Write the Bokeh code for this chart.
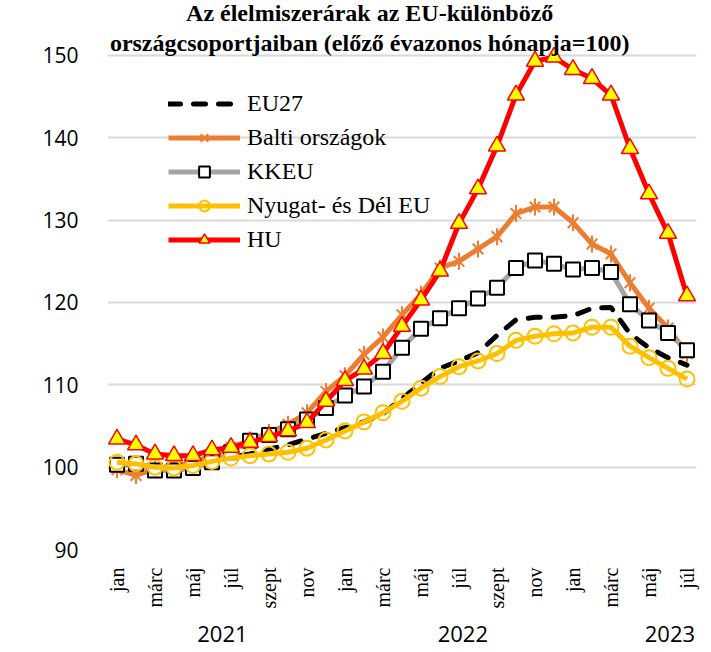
from math import pi
from bokeh.plotting import figure
from bokeh.models import (Range1d, FixedTicker, Legend, LegendItem, Label, ColumnDataSource,
                          LinearAxis)
from bokeh.embed import file_html
from bokeh.resources import INLINE

month_names = ["jan", "febr", "márc", "ápr", "máj", "jún", "júl", "aug", "szept", "okt", "nov", "dec"]
months = [month_names[i % 12] for i in range(31)]  # jan 2021 .. júl 2023
years = ["2021", "2022", "2023"]
year_pos = [5.55, 18.2, 29.1]

eu27 = [100.4, 100.3, 100.0, 100.1, 100.3, 100.7, 101.2, 101.6, 102.2, 102.7, 103.4, 104.1,
        104.8, 105.5, 106.5, 108.3, 110.2, 112.0, 112.9, 113.9, 116.0, 117.9, 118.2, 118.2,
        118.4, 119.3, 119.4, 116.2, 114.5, 113.3, 112.4]
balti = [99.7, 99.0, 99.8, 100.2, 100.6, 101.4, 102.4, 103.3, 104.2, 105.2, 106.6, 109.2,
         111.1, 113.7, 115.8, 118.5, 121.0, 124.2, 125.0, 126.5, 128.0, 130.8, 131.6, 131.6,
         129.7, 127.1, 125.9, 122.4, 119.3, 116.9, 113.8]
kkeu = [100.3, 100.4, 99.6, 99.6, 99.9, 100.6, 101.8, 103.2, 103.9, 104.6, 105.8, 107.2,
        108.7, 109.8, 111.6, 114.5, 116.8, 118.1, 119.3, 120.5, 121.8, 124.2, 125.1, 124.7,
        124.0, 124.2, 123.7, 119.8, 117.8, 116.3, 114.2]
nyugat = [100.6, 100.4, 100.0, 99.9, 100.2, 100.7, 101.1, 101.4, 101.6, 101.8, 102.3, 103.3,
          104.4, 105.5, 106.6, 108.0, 109.6, 111.0, 112.2, 112.9, 113.8, 115.4, 115.9, 116.2,
          116.3, 117.0, 117.0, 114.7, 113.3, 112.0, 110.7]
hu = [103.4, 102.7, 101.6, 101.4, 101.4, 102.1, 102.4, 103.0, 103.7, 104.4, 105.4, 108.0,
      110.5, 111.9, 113.8, 117.1, 120.3, 123.8, 129.6, 133.8, 139.0, 145.2, 149.3, 149.8,
      148.3, 147.2, 145.2, 138.7, 133.2, 128.4, 120.8]

series_names = ["EU27", "Balti országok", "KKEU", "Nyugat- és Dél EU", "HU"]
title_lines = ["Az élelmiszerárak az EU-különböző",
               "országcsoportjaiban (előző évazonos hónapja=100)"]
y_ticks = [90, 100, 110, 120, 130, 140, 150]

x = list(range(len(months)))
src = ColumnDataSource(dict(x=x, eu27=eu27, balti=balti, kkeu=kkeu, nyugat=nyugat, hu=hu))

# frame reaches the top of the canvas so the title can sit inside it; values 90..150 span
# the same pixels as in the reference
p = figure(width=711, height=652, output_backend="svg", toolbar_location=None,
           x_range=Range1d(-0.5, 30.5), y_range=Range1d(90, 156.68),
           min_border_left=107, min_border_right=15, min_border_top=0, min_border_bottom=103)
p.outline_line_color = None
p.background_fill_color = "white"
p.border_fill_color = "white"
p.xgrid.visible = False
p.ygrid.grid_line_color = "#d9d9d9"
p.ygrid.grid_line_width = 2

p.yaxis.ticker = FixedTicker(ticks=y_ticks)
p.yaxis.axis_line_color = None
p.yaxis.major_tick_line_color = None
p.yaxis.minor_tick_line_color = None
p.yaxis.major_label_text_font = "Open Sans"
p.yaxis.major_label_text_font_size = "21px"
p.yaxis.major_label_text_color = "#000000"
p.yaxis.major_label_standoff = 23

xa = p.xaxis[0]
xa.ticker = FixedTicker(ticks=x[::2])
xa.major_label_overrides = {i: months[i] for i in x[::2]}
xa.major_label_orientation = pi / 2
xa.axis_line_color = None
xa.major_tick_line_color = None
xa.minor_tick_line_color = None
xa.major_label_text_font = "Liberation Serif"
xa.major_label_text_font_size = "20px"
xa.major_label_text_color = "#000000"
xa.major_label_standoff = 12

ya = LinearAxis(ticker=FixedTicker(ticks=year_pos),
                major_label_overrides={v: t for v, t in zip(year_pos, years)},
                axis_line_color=None, major_tick_line_color=None, minor_tick_line_color=None,
                major_label_text_font="Open Sans", major_label_text_font_size="22px",
                major_label_text_color="#000000", major_label_standoff=8)
p.add_layout(ya, "below")

r_eu = p.line("x", "eu27", source=src, line_color="black", line_width=5,
              line_dash="12 13", line_cap="round")

r_ba = p.line("x", "balti", source=src, line_color="#ED7D31", line_width=5, line_join="round")
r_ba_m1 = p.scatter("x", "balti", source=src, marker="x", size=15, line_color="#ED7D31", line_width=2)
r_ba_m2 = p.scatter("x", "balti", source=src, marker="dash", angle=pi / 2, size=17,
                    line_color="#ED7D31", line_width=2)

r_kk = p.line("x", "kkeu", source=src, line_color="#A5A5A5", line_width=5, line_join="round")
r_kk_m = p.scatter("x", "kkeu", source=src, marker="square", size=14, fill_color="white",
                   line_color="black", line_width=2)

r_ny = p.line("x", "nyugat", source=src, line_color="#FFC000", line_width=5, line_join="round")
r_ny_m = p.scatter("x", "nyugat", source=src, marker="circle", size=15, fill_color=None,
                   line_color="#FFC000", line_width=2)

r_hu = p.line("x", "hu", source=src, line_color="#FF0000", line_width=5, line_join="round")
r_hu_m = p.scatter("x", "hu", source=src, marker="triangle", size=17, fill_color="#FFFF00",
                   line_color="#FF0000", line_width=1.5)

legend = Legend(items=[
    LegendItem(label=series_names[0], renderers=[r_eu]),
    LegendItem(label=series_names[1], renderers=[r_ba, r_ba_m1, r_ba_m2]),
    LegendItem(label=series_names[2], renderers=[r_kk, r_kk_m]),
    LegendItem(label=series_names[3], renderers=[r_ny, r_ny_m]),
    LegendItem(label=series_names[4], renderers=[r_hu, r_hu_m]),
], location=(61, 296), padding=0, margin=0, spacing=7, glyph_width=72, glyph_height=27,
    label_height=27, label_standoff=7, border_line_color=None, background_fill_alpha=0,
    label_text_font="Liberation Serif", label_text_font_size="24px", label_text_color="black")
p.add_layout(legend)

# two-line title above the 150 line
for txt, yv in zip(title_lines, [155.22, 151.55]):
    p.add_layout(Label(x=13.3, y=yv, text=txt, text_align="center", text_baseline="alphabetic",
                       text_font="Liberation Serif", text_font_style="bold",
                       text_font_size="24px", text_color="black"))

open("out.html", "w").write(file_html(p, INLINE))
